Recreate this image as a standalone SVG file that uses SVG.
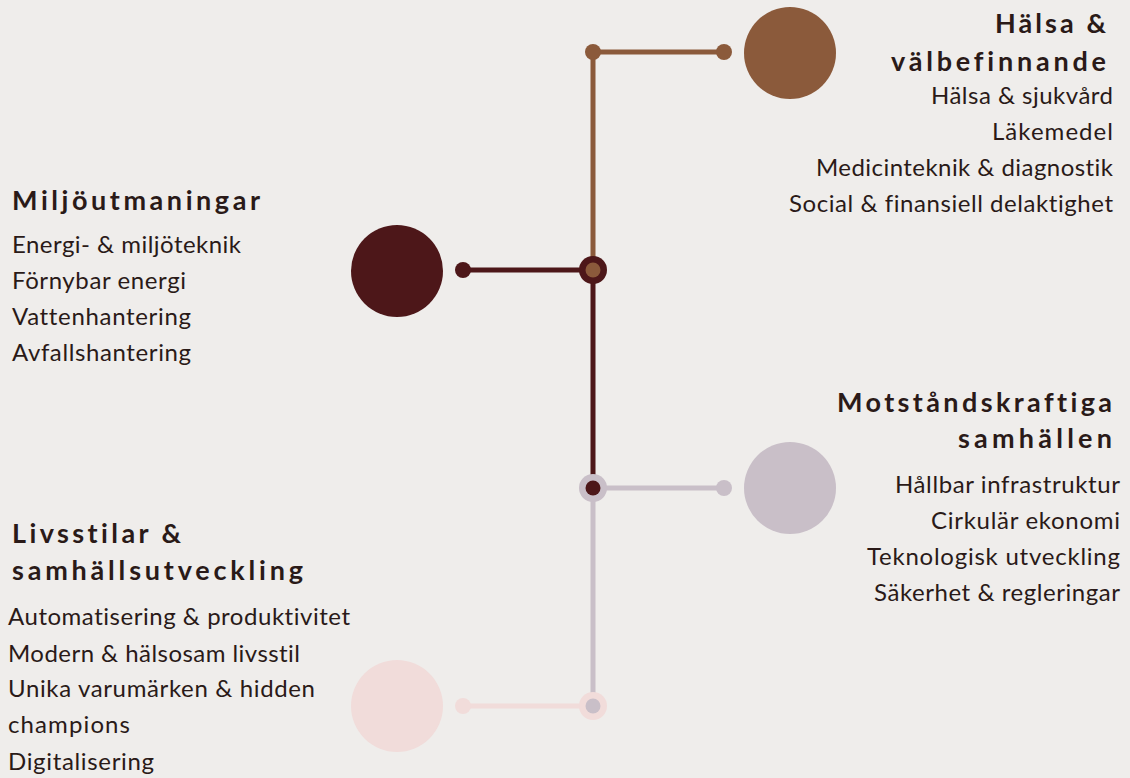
<svg xmlns="http://www.w3.org/2000/svg" width="1130" height="778" viewBox="0 0 1130 778">
<style>
.h{font-family:"Lato","Liberation Sans",sans-serif;font-weight:bold;font-size:27px;fill:#2A1A18;font-variant-ligatures:none}
.t{font-family:"Lato","Liberation Sans",sans-serif;font-size:24px;fill:#2A1A18;font-variant-ligatures:none}
.e{text-anchor:end}
.ln{stroke-width:5;fill:none}
</style>
<rect x="0" y="0" width="1130" height="778" fill="#EFEDEB"/>
<g id="connectors">
<line class="ln" x1="593" y1="52" x2="593" y2="270" stroke="#8B5A3B"/>
<line class="ln" x1="593" y1="52" x2="724" y2="52" stroke="#8B5A3B"/>
<line class="ln" x1="593" y1="270" x2="593" y2="488" stroke="#4D1719"/>
<line class="ln" x1="463" y1="270" x2="593" y2="270" stroke="#4D1719"/>
<line class="ln" x1="593" y1="488" x2="593" y2="706" stroke="#C9BFC8"/>
<line class="ln" x1="593" y1="488" x2="724" y2="488" stroke="#C9BFC8"/>
<line class="ln" x1="463" y1="706" x2="593" y2="706" stroke="#F1DCDA"/>
<circle cx="593" cy="52" r="8" fill="#8B5A3B"/>
<circle cx="724" cy="52" r="8" fill="#8B5A3B"/>
<circle cx="463" cy="270" r="8" fill="#4D1719"/>
<circle cx="593" cy="270" r="14" fill="#4D1719"/>
<circle cx="593" cy="270" r="7.5" fill="#8B5A3B"/>
<circle cx="724" cy="488" r="8" fill="#C9BFC8"/>
<circle cx="593" cy="488" r="14" fill="#C9BFC8"/>
<circle cx="593" cy="488" r="7.5" fill="#4D1719"/>
<circle cx="463" cy="706" r="8" fill="#F1DCDA"/>
<circle cx="593" cy="706" r="14" fill="#F1DCDA"/>
<circle cx="593" cy="706" r="7.5" fill="#C9BFC8"/>
</g>
<g id="halsa">
<circle cx="790" cy="53" r="46" fill="#8B5A3B"/>
<text class="h e" x="1106" y="33" textLength="111">Hälsa &amp;</text>
<text class="h e" x="1106" y="71" textLength="215">välbefinnande</text>
<text class="t e" x="1113" y="104" textLength="182">Hälsa &amp; sjukvård</text>
<text class="t e" x="1113" y="140" textLength="121">Läkemedel</text>
<text class="t e" x="1113" y="176" textLength="297">Medicinteknik &amp; diagnostik</text>
<text class="t e" x="1113" y="212" textLength="324">Social &amp; finansiell delaktighet</text>
</g>
<g id="miljo">
<circle cx="397" cy="271" r="46" fill="#4D1719"/>
<text class="h" x="12" y="210" textLength="248">Miljöutmaningar</text>
<text class="t" x="12" y="253" textLength="229">Energi- &amp; miljöteknik</text>
<text class="t" x="12" y="289" textLength="174">Förnybar energi</text>
<text class="t" x="12" y="325" textLength="179">Vattenhantering</text>
<text class="t" x="12" y="361" textLength="179">Avfallshantering</text>
</g>
<g id="motstand">
<circle cx="790" cy="488" r="46" fill="#C9BFC8"/>
<text class="h e" x="1112" y="412" textLength="275">Motståndskraftiga</text>
<text class="h e" x="1112" y="448" textLength="154">samhällen</text>
<text class="t e" x="1120" y="493" textLength="225">Hållbar infrastruktur</text>
<text class="t e" x="1120" y="529" textLength="189">Cirkulär ekonomi</text>
<text class="t e" x="1120" y="565" textLength="253">Teknologisk utveckling</text>
<text class="t e" x="1120" y="601" textLength="246">Säkerhet &amp; regleringar</text>
</g>
<g id="livsstil">
<circle cx="397" cy="706" r="46" fill="#F1DCDA"/>
<text class="h" x="12" y="543" textLength="169">Livsstilar &amp;</text>
<text class="h" x="12" y="580" textLength="291">samhällsutveckling</text>
<text class="t" x="8" y="625" textLength="342">Automatisering &amp; produktivitet</text>
<text class="t" x="8" y="662" textLength="292">Modern &amp; hälsosam livsstil</text>
<text class="t" x="8" y="697" textLength="307">Unika varumärken &amp; hidden</text>
<text class="t" x="8" y="733" textLength="122">champions</text>
<text class="t" x="8" y="770" textLength="146">Digitalisering</text>
</g>
</svg>
